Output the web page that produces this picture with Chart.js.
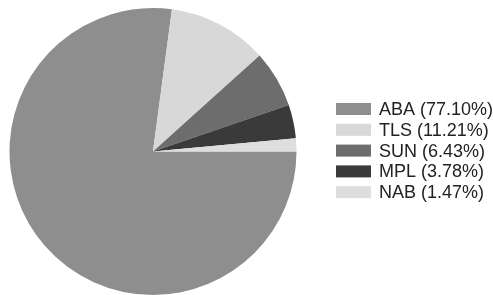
<!DOCTYPE html>
<html>
<head>
<meta charset="utf-8">
<script src="https://cdn.jsdelivr.net/npm/chart.js@4"></script>
<style>
  html, body { margin: 0; padding: 0; background: #fff; }
  #wrap { width: 493px; height: 295px; }
</style>
</head>
<body>
<div id="wrap"><canvas id="pie"></canvas></div>
<script>
/* Datos */
const etiquetas = ["ABA", "TLS", "SUN", "MPL", "NAB"];
const porcentajes = [77.10, 11.21, 6.43, 3.78, 1.47];
const colores = ["#8e8e8e", "#d8d8d8", "#6d6d6d", "#3a3a3a", "#dedede"];

/* Leyenda dibujada a mano a la derecha */
const leyenda = {
    id: "leyenda",
    afterDraw(chart) {
        const ctx = chart.ctx;
        const x0 = 336, y0 = 109, paso = 20.8;
        ctx.save();
        ctx.font = "18px 'Liberation Sans', Arial, sans-serif";
        ctx.textBaseline = "middle";
        etiquetas.forEach((lab, i) => {
            const y = y0 + i * paso;
            ctx.fillStyle = colores[i];
            ctx.fillRect(x0, y - 6, 35, 12);
            ctx.fillStyle = "#222";
            ctx.fillText(lab + " (" + porcentajes[i].toFixed(2) + "%)", x0 + 43, y + 1);
        });
        ctx.restore();
    }
};

new Chart(document.getElementById("pie"), {
    type: "pie",
    data: {
        labels: etiquetas,
        datasets: [{
            data: porcentajes,
            backgroundColor: colores,
            borderWidth: 0
        }]
    },
    options: {
        responsive: true,
        maintainAspectRatio: false,
        animation: false,
        rotation: 90,
        layout: { padding: { left: 9, top: 8, right: 196, bottom: 0 } },
        plugins: {
            legend: { display: false },
            tooltip: { enabled: false }
        }
    },
    plugins: [leyenda]
});
</script>
</body>
</html>
